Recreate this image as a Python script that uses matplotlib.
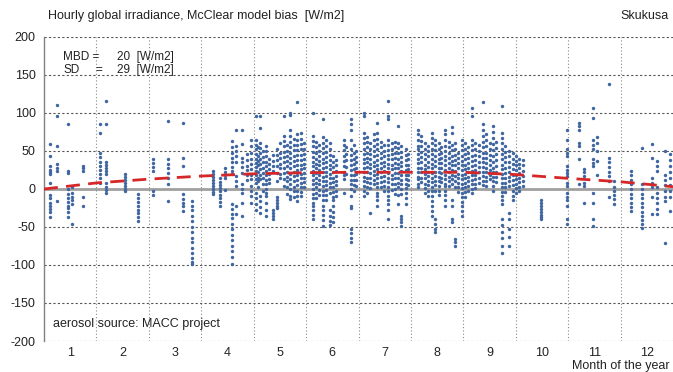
import matplotlib
matplotlib.use('Agg')
import matplotlib.pyplot as plt

plt.rcParams['font.family'] = ['Liberation Sans', 'DejaVu Sans']

# month labels / ticks
months = ['1', '2', '3', '4', '5', '6', '7', '8', '9', '10', '11', '12']
yticks = [200, 150, 100, 50, 0, -50, -100, -150, -200]

# seasonal bias curve (read at month boundaries)
curve_x = [0, 1, 2, 3, 4, 5, 6, 7, 8, 9, 10, 11, 12]
curve_y = [0, 8, 13, 17, 20, 21.5, 22, 22, 22, 19, 14, 9.5, 3]

# hourly bias, one strip of hours per day (position in months, values W/m2)
day_pos = [
    0.11, 0.24, 0.46, 0.53, 0.74, 1.07, 1.18, 1.55, 1.80, 2.08, 2.37, 2.66, 2.83,
    3.23, 3.36, 3.45, 3.58, 3.66, 3.78, 3.88, 3.95,
    4.05, 4.09, 4.13, 4.18, 4.23, 4.30, 4.37, 4.44, 4.50, 4.57, 4.63, 4.70, 4.76,
    4.83, 4.90, 4.96,
    5.13, 5.19, 5.25, 5.32, 5.38, 5.45, 5.52, 5.58, 5.72, 5.77, 5.85, 5.91, 5.96,
    6.10, 6.16, 6.22, 6.29, 6.35, 6.42, 6.48, 6.57, 6.63, 6.70, 6.76, 6.82, 6.90,
    6.95,
    7.14, 7.20, 7.27, 7.33, 7.40, 7.46, 7.53, 7.58, 7.65, 7.72, 7.78, 7.84, 7.90,
    7.97, 8.03, 8.09, 8.17, 8.23, 8.29, 8.37, 8.43, 8.50, 8.57, 8.63, 8.73, 8.80,
    8.87, 8.94, 9.00, 9.07, 9.13,
    9.48, 9.98, 10.20, 10.30, 10.47, 10.55, 10.77, 10.87, 11.20, 11.40, 11.60,
    11.70, 11.85, 11.95,
]
day_bias = [
    [59, 43, 30, 25, 22, 20, 8, -8, -12, -18, -22, -26, -30, -37],
    [111, 96, 57, 33, 28, 24, -16],
    [85, 24, 21, 0, -7, -12, -17, -22, -25, -30, -37],
    [3, -5, -10, -15, -20, -46],
    [30, 27, 24, -11, -22],
    [85, 74, 48, 42, 36, 30, 25, 20, 14, 8],
    [116, 85, 36, 32, 28, 24, 20, 8, 3, -1, -5],
    [20, 16, 12, 8, 4, 0, -2],
    [-7, -12, -17, -22, -27, -32, -37, -42],
    [39, 34, 29, 24, -2, -8],
    [90, 39, 33, 27, 21, 15, 7, -16],
    [87, 41, 30, -7, -13, -18, -23, -29],
    [-16, -22, -28, -35, -42, -50, -57, -64, -70, -77, -84, -91, -96, -99],
    [24, 20, 16, 12, 8, 4, 0, -4, -7],
    [14, 9, 5, 1, -3, -8, -12, -17, -22],
    [27, 23, 18, 14, -1],
    [63, 55, 48, 41, 35, 29, 24, 20, -20, -26, -33, -38, -46, -53, -60, -67,
     -75, -82, -90, -99],
    [78, 57, 50, 43, 35, 17, 11, 4, -22, -33],
    [78, 59, 41, 35, 29, 21, 6, 0, -5, -18, -36],
    [46, 38, 30, 25, 19, 12],
    [65, 56, 48, 40, 33, 26, 19, 13, 4, -3, -9, -18],
    [96, 65, 58, 52, 46, 40, 34, 29, 24, 19, 13, 8, -5, -12, -20, -27],
    [55, 44, 37, 31, 22, 15, 10, 3],
    [96, 80, 61, 54, 47, 40, 33, 26, 19, 13, -9, -16, -24, -31],
    [50, 42, 36, 28, 21, 14, 6, -2],
    [57, 50, 43, 36, 30, 24, 18, 12, 6, 0, -5, -9, -18, -27, -36],
    [40, 33, 26, 20, 13, 8],
    [45, 37, 30, 24, -28, -32, -36, -40],
    [52, 45, 38, 30, 21, 10, -11, -15, -19, -22, -25],
    [60, 48, 41, 33, 27, 20, 14],
    [96, 70, 63, 56, 49, 42, 35, 28, 21, 13, 4],
    [58, 50, 44, 37, 30, 23, 16, 10, 2, -6],
    [100, 97, 78, 70, 62, 55, 48, 41, 34, 27, 20, 13, 6, 0, -9, -13],
    [66, 58, 51, 44, 37, 30, 23, 17, 10, 3, -3, -10],
    [114, 72, 65, 58, 51, 45, 38, 31, 25, 18, 12, 5, -2, -9, -16],
    [74, 66, 59, 52, 45, 38, 32, 26, 20, 14, 8, 2, -4, -9],
    [60, 53, 46, 39, 33, 27, 21, 15, 9, 3],
    [100, 70, 63, 56, 49, 42, 36, 30, 24, 18, 12, 6, 0, -6, -12, -18, -22, -28,
     -34, -40],
    [62, 55, 47, 40, 33, 27, 21, 15, 8, 2, -5, -12],
    [58, 50, 43, 37, 31, 25, 19, 12, 6, -1, -8],
    [92, 68, 61, 54, 47, 40, 34, 28, 22, 16, 10, 4, -2, -8, -15, -22, -27, -34,
     -41, -49],
    [64, 56, 49, 42, 36, 29, 23, 17, 11, 5, -1, -8, -15],
    [60, 52, 45, 38, 32, 26, 20, 14, 8, 2, -5, -27, -35, -42, -48],
    [43, 36, 29, 22, 15, 9, 3, -4, -10, -14, -22, -30, -37, -44],
    [38, 31, 24, 17, 11, 5, -3, -9],
    [65, 58, 51, 44, 37, 30, 23, 18, 13, -5],
    [55, 46, 38, 29, 20],
    [92, 85, 78, 65, 52, 45, 38, 31, 25, 18, 12, 6, 0, -9, -22, -25, -53, -58,
     -64, -70],
    [58, 48, 40, 33, 26, 19, 12, 5, -2],
    [50, 42, 35, 27, 20, 12, 4],
    [100, 96, 74, 67, 60, 53, 46, 40, 34, 28, 22, 16, 10, 4, -3, -9],
    [69, 62, 55, 48, 41, 35, 29, 22, 15, 9, 2, -5],
    [60, 53, 46, 39, 33, 27, 21, 15, 8, 1, -31],
    [72, 64, 57, 50, 43, 36, 30, 24, 18, 12, 6],
    [87, 74, 66, 59, 52, 45, 38, 32, 26, 20, 14, 8, 2, -5, -9, -15, -22],
    [62, 55, 48, 41, 34, 28, 22, 16, 9, 3],
    [58, 50, 43, 36, 30, 24, 17, 11, 4, -3],
    [116, 96, 92, 65, 58, 51, 45, 39, 33, 27, 21, 15, 9, 3, -3, -9, -14, -20,
     -27, -40],
    [60, 53, 46, 39, 32, 26, 19, 13, 6, -1],
    [62, 55, 48, 41, 34, 27, 21, 14, 7, 0, -7],
    [83, 61, 54, 47, 40, 33, 27, 21, 15, 8, 2, -8, -20],
    [56, 49, 42, 36, 30, 24, 18, 12, 6, 0, -6, -36, -40, -44, -49],
    [52, 45, 38, 31, 25, 19, 13, 7, 1, -5, -12, -20],
    [46, 39, 32, 26, 19, 12, 5],
    [78, 72, 65, 57, 52, 46, 40, 34, 28, 22, 16, 13, 7, 2],
    [70, 63, 56, 49, 42, 35, 28, 22, 15, 9],
    [60, 53, 46, 39, 32, 26, 20, 14, 7, 1, -5],
    [57, 50, 43, 36, 29, 23, 17, 11, 5, -2, -9],
    [74, 67, 60, 53, 46, 39, 33, 27, 21, 15, 9, 3, -3, -9, -16, -22, -29, -36],
    [65, 58, 51, 44, 37, 30, 23, 17, 11, 5, -2, -40, -46, -52, -57],
    [60, 53, 46, 40, 34, 28, 22, 16, 10, 4, -2, -8],
    [55, 48, 41, 34, 27, 21, 15, 9],
    [78, 72, 65, 57, 50, 44, 38, 31, 25, 19, 13, 7, 4, -2, -8, -14, -22],
    [62, 55, 48, 41, 34, 28, 22, 16, 10, 4],
    [81, 74, 58, 51, 44, 37, 31, 25, 19, 13, 7, -14, -22, -40, -44],
    [60, 52, 45, 38, 31, 24, 17, 10, 3, -66, -70, -75],
    [48, 41, 34, 27, 20, 14, 8, 2, -4],
    [65, 58, 51, 44, 37, 31, 25, 19, 13, 7, 1, -5, -11, -17, -22, -29, -36],
    [60, 53, 46, 39, 32, 26, 20, 14, 8, 2, -4, -10],
    [55, 48, 41, 34, 28, 22, 16, 10, 4, -2],
    [107, 96, 65, 58, 51, 44, 37, 30, 24, 18, 12, 6, 0, -5],
    [60, 52, 45, 38, 31, 25, 19, 13, 7, 1],
    [58, 50, 43, 36, 29, 22, 15, 8],
    [114, 85, 78, 70, 62, 55, 48, 41, 35, 29, 23, 17, 11, 5],
    [72, 64, 56, 48, 41, 34, 28, 22, 16, 10, 4],
    [60, 52, 45, 38, 31, 25, 19, 13],
    [83, 75, 67, 59, 51, 43, 35, 28, 22, 16, 10, 4, -3],
    [62, 54, 46, 38, 30, 23, 16, 9],
    [109, 74, 67, 60, 53, 46, 39, 32, 26, 20, 14, 8, 2, -4, -9, -15, -20, -40,
     -48, -56, -65, -75, -84],
    [56, 49, 42, 35, 28, 21, 14, 8, 2, -4],
    [50, 43, 36, 29, 22, 16, 10, 4, -31, -40, -52, -63, -75],
    [48, 40, 33, 26, 19, 12, 5, -2, -9, -14],
    [43, 37, 31, 25, 19, 13, 7, 1, -5],
    [40, 33, 27, 21, 15, 9, 3, -3],
    [38, 31, 24, 17, 10, 4],
    [-14, -18, -22, -26, -30, -34, -37, -40],
    [78, 65, 52, 47, 43, 30, 25, 21, 17, 8, 4, -5, -10, -15, -22, -40, -46],
    [87, 83, 78, 61, 57, 39, 6],
    [26, 22, 17, 8, 4, -18],
    [107, 94, 65, 58, 52, 39, 34, 30, -5, -18, -40, -49],
    [68, 60, 50, 37, 19],
    [138, 41, 35, 29, 23, 17, 11, -11],
    [10, 3, -3, -8, -13, -20],
    [24, 18, 12, 6, 0, -6, -12, -18, -24, -29],
    [54, 6, 0, -6, -12, -18, -24, -30, -36, -41, -46, -51],
    [59, 41, 15, 8, 2, -10, -33],
    [37, 30, 24, 2, -5, -12, -19, -26, -33],
    [50, 19, 12, 5, -3, -10, -16, -71],
    [46, 38, 30, 22, 14, 5, -2, -11, -29],
]

xs = []
ys = []
for pos, vals in zip(day_pos, day_bias):
    for v in vals:
        xs.append(pos)
        ys.append(v)

fig = plt.figure(figsize=(6.73, 3.72), dpi=100)
ax = fig.add_axes([44 / 673, 1 - 341 / 372, 629 / 673, 304 / 372])

# grid
for yv in yticks:
    if yv == 0:
        ax.axhline(0, color='#a0a0a0', lw=2, zorder=1)
    else:
        ax.axhline(yv, color='#555555', lw=0.8, dashes=(2, 2), zorder=1)
for m in range(1, 12):
    ax.axvline(m, color='#8a8a8a', lw=0.8, dashes=(1, 2), zorder=1)

ax.scatter(xs, ys, s=6, color='#3f66a0', linewidths=0, zorder=2)
ax.plot(curve_x, curve_y, color='#d62728', lw=2, dashes=(5, 3), zorder=3)

ax.set_xlim(0, 12)
ax.set_ylim(-200, 200)
ax.set_yticks(yticks)
ax.set_yticklabels([str(v) for v in yticks])
ax.set_xticks([m + 0.5 for m in range(12)])
ax.set_xticklabels(months)
ax.tick_params(length=0, labelsize=9, colors='#222222', pad=6)
ax.tick_params(axis='x', pad=4)

for s in ['top', 'right', 'bottom']:
    ax.spines[s].set_visible(False)
ax.spines['left'].set_color('#808080')
ax.spines['left'].set_linewidth(1)

fig.text(48 / 673, 1 - 16 / 372, 'Hourly global irradiance, McClear model bias  [W/m2]',
         fontsize=9, va='center', ha='left', color='#222222')
fig.text(669 / 673, 1 - 16 / 372, 'Skukusa', fontsize=9, va='center', ha='right',
         color='#222222')
fig.text(670 / 673, 1 - 366 / 372, 'Month of the year', fontsize=9, va='center',
         ha='right', color='#222222')

fig.text(63 / 673, 1 - 57 / 372, 'MBD =', fontsize=8.5, va='center', color='#222222')
fig.text(117 / 673, 1 - 57 / 372, '20  [W/m2]', fontsize=8.5, va='center', color='#222222')
fig.text(63 / 673, 1 - 70 / 372, 'SD', fontsize=8.5, va='center', color='#222222')
fig.text(95 / 673, 1 - 70 / 372, '=', fontsize=8.5, va='center', color='#222222')
fig.text(117 / 673, 1 - 70 / 372, '29  [W/m2]', fontsize=8.5, va='center', color='#222222')
fig.text(53 / 673, 1 - 324 / 372, 'aerosol source: MACC project', fontsize=9,
         va='center', color='#222222')

fig.savefig('out.png', dpi=100)
